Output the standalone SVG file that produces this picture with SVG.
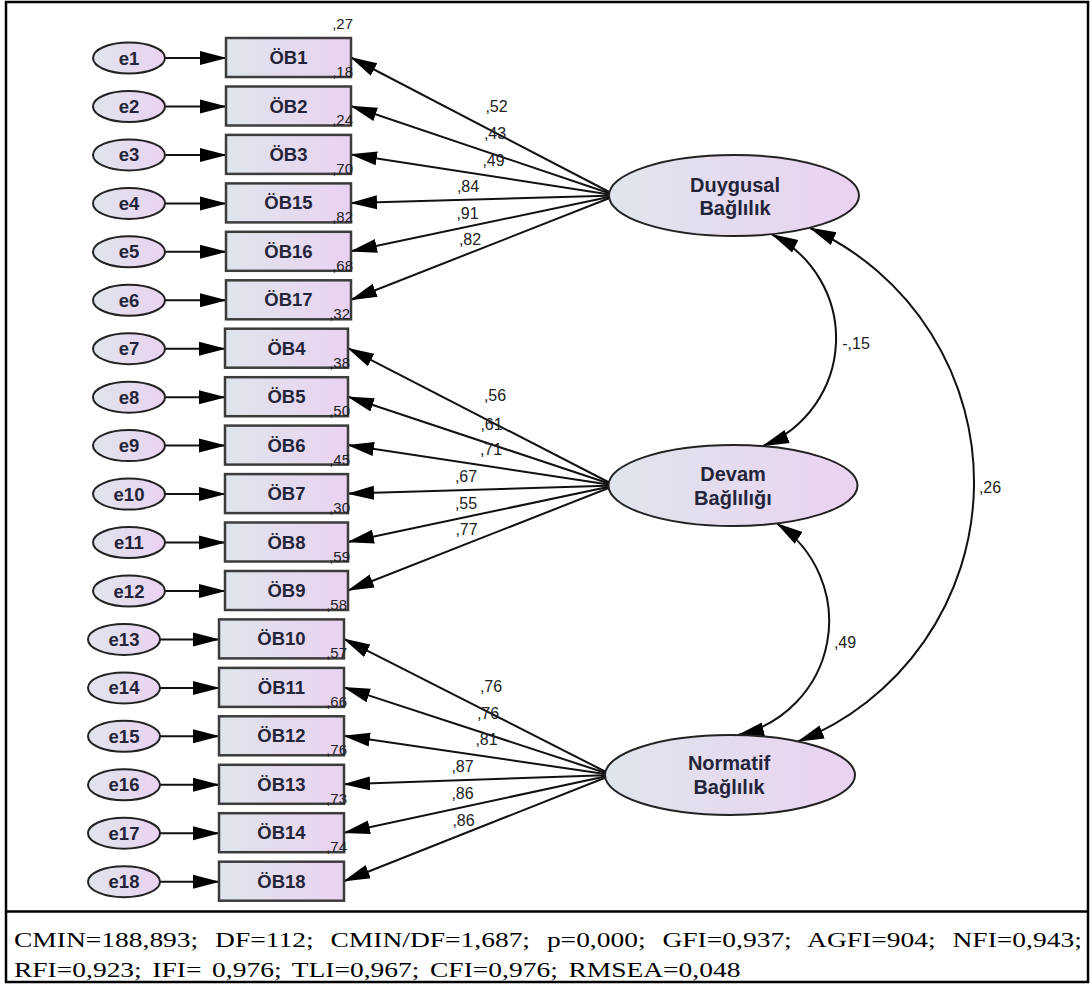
<svg xmlns="http://www.w3.org/2000/svg" width="1092" height="985" viewBox="0 0 1092 985">
<style>
.box{fill:url(#g);stroke:#3c3c3c;stroke-width:2.5}
.err{fill:url(#g);stroke:#222;stroke-width:2}
.fac{fill:url(#g);stroke:#222;stroke-width:2}
.lbl{font-family:"Liberation Sans",Arial,sans-serif;font-size:18.5px;font-weight:bold;fill:#24243a;text-anchor:middle}
.flbl{font-family:"Liberation Sans",Arial,sans-serif;font-size:20px;font-weight:bold;fill:#24243a;text-anchor:middle}
.num{font-family:"Liberation Sans",Arial,sans-serif;font-size:16px;fill:#222;text-anchor:middle}
.r2{font-family:"Liberation Sans",Arial,sans-serif;font-size:15px;fill:#222;text-anchor:end}
.c{fill:none;stroke:#111;stroke-width:2}
.fit{font-family:"Liberation Serif","Times New Roman",serif;font-size:22px;fill:#000}
</style>
<defs>
<linearGradient id="g" x1="0" y1="0" x2="1" y2="0">
<stop offset="0" stop-color="#dfe5ec"/>
<stop offset="1" stop-color="#ead2f1"/>
</linearGradient>
<marker id="ah" markerUnits="userSpaceOnUse" markerWidth="27" markerHeight="16" viewBox="0 0 27 16" refX="26" refY="8" orient="auto-start-reverse">
<path d="M0,1 L27,8 L0,15 Z" fill="#000"/>
</marker>
</defs>
<rect x="6" y="2" width="1082" height="980" fill="#fff" stroke="#000" stroke-width="2.5"/>
<line x1="6" y1="911.5" x2="1088" y2="911.5" stroke="#000" stroke-width="2.5"/>

<g id="connectors">
<path class="c" marker-end="url(#ah)" d="M165,58 L226,58"/>
<path class="c" marker-end="url(#ah)" d="M165,106.5 L226,106.5"/>
<path class="c" marker-end="url(#ah)" d="M165,154.9 L226,154.9"/>
<path class="c" marker-end="url(#ah)" d="M165,203.4 L226,203.4"/>
<path class="c" marker-end="url(#ah)" d="M165,251.8 L226,251.8"/>
<path class="c" marker-end="url(#ah)" d="M165,300.3 L226,300.3"/>
<path class="c" marker-end="url(#ah)" d="M165,348.7 L225,348.7"/>
<path class="c" marker-end="url(#ah)" d="M165,397.2 L225,397.2"/>
<path class="c" marker-end="url(#ah)" d="M165,445.6 L225,445.6"/>
<path class="c" marker-end="url(#ah)" d="M165,494.1 L225,494.1"/>
<path class="c" marker-end="url(#ah)" d="M165,542.5 L225,542.5"/>
<path class="c" marker-end="url(#ah)" d="M165,591 L225,591"/>
<path class="c" marker-end="url(#ah)" d="M160,639.4 L219,639.4"/>
<path class="c" marker-end="url(#ah)" d="M160,687.9 L219,687.9"/>
<path class="c" marker-end="url(#ah)" d="M160,736.3 L219,736.3"/>
<path class="c" marker-end="url(#ah)" d="M160,784.8 L219,784.8"/>
<path class="c" marker-end="url(#ah)" d="M160,833.2 L219,833.2"/>
<path class="c" marker-end="url(#ah)" d="M160,881.7 L219,881.7"/>
<path class="c" marker-end="url(#ah)" d="M616,195.5 L351,57.5"/>
<path class="c" marker-end="url(#ah)" d="M616,195.5 L351,106"/>
<path class="c" marker-end="url(#ah)" d="M616,195.5 L351,154.4"/>
<path class="c" marker-end="url(#ah)" d="M616,195.5 L351,202.9"/>
<path class="c" marker-end="url(#ah)" d="M616,195.5 L351,251.3"/>
<path class="c" marker-end="url(#ah)" d="M616,195.5 L351,299.8"/>
<path class="c" marker-end="url(#ah)" d="M615,485.5 L348,348.2"/>
<path class="c" marker-end="url(#ah)" d="M615,485.5 L348,396.7"/>
<path class="c" marker-end="url(#ah)" d="M615,485.5 L348,445.1"/>
<path class="c" marker-end="url(#ah)" d="M615,485.5 L348,493.6"/>
<path class="c" marker-end="url(#ah)" d="M615,485.5 L348,542"/>
<path class="c" marker-end="url(#ah)" d="M615,485.5 L348,590.5"/>
<path class="c" marker-end="url(#ah)" d="M612,775 L344,638.9"/>
<path class="c" marker-end="url(#ah)" d="M612,775 L344,687.4"/>
<path class="c" marker-end="url(#ah)" d="M612,775 L344,735.8"/>
<path class="c" marker-end="url(#ah)" d="M612,775 L344,784.3"/>
<path class="c" marker-end="url(#ah)" d="M612,775 L344,832.7"/>
<path class="c" marker-end="url(#ah)" d="M612,775 L344,881.2"/>
<path class="c" marker-start="url(#ah)" marker-end="url(#ah)" d="M772,234.5 A116,116 0 0 1 763,446"/>
<path class="c" marker-start="url(#ah)" marker-end="url(#ah)" d="M777,523.5 A117,117 0 0 1 738,735"/>
<path class="c" marker-start="url(#ah)" marker-end="url(#ah)" d="M810,228 A279,279 0 0 1 798,741.5"/>
</g>

<g id="labels-loadings">
<text class="num" x="496.5" y="111.5">,52</text>
<text class="num" x="495" y="139">,43</text>
<text class="num" x="493.5" y="165.5">,49</text>
<text class="num" x="468" y="192">,84</text>
<text class="num" x="467.5" y="219">,91</text>
<text class="num" x="470" y="245">,82</text>
<text class="num" x="495" y="401">,56</text>
<text class="num" x="491.5" y="429.5">,61</text>
<text class="num" x="491" y="455">,71</text>
<text class="num" x="466" y="482">,67</text>
<text class="num" x="466" y="509">,55</text>
<text class="num" x="466.5" y="535">,77</text>
<text class="num" x="491" y="692">,76</text>
<text class="num" x="488" y="719">,76</text>
<text class="num" x="486.5" y="745">,81</text>
<text class="num" x="462.5" y="772">,87</text>
<text class="num" x="462.5" y="799">,86</text>
<text class="num" x="463.5" y="825.5">,86</text>
<text class="num" x="856" y="348.5">-,15</text>
<text class="num" x="845" y="647.5">,49</text>
<text class="num" x="990" y="493">,26</text>
</g>

<g id="e1"><ellipse class="err" cx="129" cy="58" rx="36" ry="15.5"/><text class="lbl" x="129" y="64.5">e1</text></g>
<g id="e2"><ellipse class="err" cx="129" cy="106.5" rx="36" ry="15.5"/><text class="lbl" x="129" y="113">e2</text></g>
<g id="e3"><ellipse class="err" cx="129" cy="154.9" rx="36" ry="15.5"/><text class="lbl" x="129" y="161.4">e3</text></g>
<g id="e4"><ellipse class="err" cx="129" cy="203.4" rx="36" ry="15.5"/><text class="lbl" x="129" y="209.9">e4</text></g>
<g id="e5"><ellipse class="err" cx="129" cy="251.8" rx="36" ry="15.5"/><text class="lbl" x="129" y="258.3">e5</text></g>
<g id="e6"><ellipse class="err" cx="129" cy="300.3" rx="36" ry="15.5"/><text class="lbl" x="129" y="306.8">e6</text></g>
<g id="e7"><ellipse class="err" cx="129" cy="348.7" rx="36" ry="15.5"/><text class="lbl" x="129" y="355.2">e7</text></g>
<g id="e8"><ellipse class="err" cx="129" cy="397.2" rx="36" ry="15.5"/><text class="lbl" x="129" y="403.7">e8</text></g>
<g id="e9"><ellipse class="err" cx="129" cy="445.6" rx="36" ry="15.5"/><text class="lbl" x="129" y="452.1">e9</text></g>
<g id="e10"><ellipse class="err" cx="129" cy="494.1" rx="36" ry="15.5"/><text class="lbl" x="129" y="500.6">e10</text></g>
<g id="e11"><ellipse class="err" cx="129" cy="542.5" rx="36" ry="15.5"/><text class="lbl" x="129" y="549">e11</text></g>
<g id="e12"><ellipse class="err" cx="129" cy="591" rx="36" ry="15.5"/><text class="lbl" x="129" y="597.5">e12</text></g>
<g id="e13"><ellipse class="err" cx="124" cy="639.4" rx="36" ry="15.5"/><text class="lbl" x="124" y="645.9">e13</text></g>
<g id="e14"><ellipse class="err" cx="124" cy="687.9" rx="36" ry="15.5"/><text class="lbl" x="124" y="694.4">e14</text></g>
<g id="e15"><ellipse class="err" cx="124" cy="736.3" rx="36" ry="15.5"/><text class="lbl" x="124" y="742.8">e15</text></g>
<g id="e16"><ellipse class="err" cx="124" cy="784.8" rx="36" ry="15.5"/><text class="lbl" x="124" y="791.3">e16</text></g>
<g id="e17"><ellipse class="err" cx="124" cy="833.2" rx="36" ry="15.5"/><text class="lbl" x="124" y="839.7">e17</text></g>
<g id="e18"><ellipse class="err" cx="124" cy="881.7" rx="36" ry="15.5"/><text class="lbl" x="124" y="888.2">e18</text></g>

<g id="OB1"><rect class="box" x="226" y="38" width="125" height="39"/><text class="lbl" x="288.5" y="64">ÖB1</text><text class="r2" x="353" y="28.5">,27</text></g>
<g id="OB2"><rect class="box" x="226" y="86.5" width="125" height="39"/><text class="lbl" x="288.5" y="112.5">ÖB2</text><text class="r2" x="353" y="77">,18</text></g>
<g id="OB3"><rect class="box" x="226" y="134.9" width="125" height="39"/><text class="lbl" x="288.5" y="160.9">ÖB3</text><text class="r2" x="353" y="125.4">,24</text></g>
<g id="OB15"><rect class="box" x="226" y="183.4" width="125" height="39"/><text class="lbl" x="288.5" y="209.4">ÖB15</text><text class="r2" x="353" y="173.9">,70</text></g>
<g id="OB16"><rect class="box" x="226" y="231.8" width="125" height="39"/><text class="lbl" x="288.5" y="257.8">ÖB16</text><text class="r2" x="353" y="222.3">,82</text></g>
<g id="OB17"><rect class="box" x="226" y="280.3" width="125" height="39"/><text class="lbl" x="288.5" y="306.3">ÖB17</text><text class="r2" x="353" y="270.8">,68</text></g>
<g id="OB4"><rect class="box" x="225" y="328.7" width="123" height="39"/><text class="lbl" x="286.5" y="354.7">ÖB4</text><text class="r2" x="350" y="319.2">,32</text></g>
<g id="OB5"><rect class="box" x="225" y="377.2" width="123" height="39"/><text class="lbl" x="286.5" y="403.2">ÖB5</text><text class="r2" x="350" y="367.7">,38</text></g>
<g id="OB6"><rect class="box" x="225" y="425.6" width="123" height="39"/><text class="lbl" x="286.5" y="451.6">ÖB6</text><text class="r2" x="350" y="416.1">,50</text></g>
<g id="OB7"><rect class="box" x="225" y="474.1" width="123" height="39"/><text class="lbl" x="286.5" y="500.1">ÖB7</text><text class="r2" x="350" y="464.6">,45</text></g>
<g id="OB8"><rect class="box" x="225" y="522.5" width="123" height="39"/><text class="lbl" x="286.5" y="548.5">ÖB8</text><text class="r2" x="350" y="513">,30</text></g>
<g id="OB9"><rect class="box" x="225" y="571" width="123" height="39"/><text class="lbl" x="286.5" y="597">ÖB9</text><text class="r2" x="350" y="561.5">,59</text></g>
<g id="OB10"><rect class="box" x="219" y="619.4" width="125" height="39"/><text class="lbl" x="281.5" y="645.4">ÖB10</text><text class="r2" x="347" y="609.9">,58</text></g>
<g id="OB11"><rect class="box" x="219" y="667.9" width="125" height="39"/><text class="lbl" x="281.5" y="693.9">ÖB11</text><text class="r2" x="347" y="658.4">,57</text></g>
<g id="OB12"><rect class="box" x="219" y="716.3" width="125" height="39"/><text class="lbl" x="281.5" y="742.3">ÖB12</text><text class="r2" x="347" y="706.8">,66</text></g>
<g id="OB13"><rect class="box" x="219" y="764.8" width="125" height="39"/><text class="lbl" x="281.5" y="790.8">ÖB13</text><text class="r2" x="347" y="755.3">,76</text></g>
<g id="OB14"><rect class="box" x="219" y="813.2" width="125" height="39"/><text class="lbl" x="281.5" y="839.2">ÖB14</text><text class="r2" x="347" y="803.7">,73</text></g>
<g id="OB18"><rect class="box" x="219" y="861.7" width="125" height="39"/><text class="lbl" x="281.5" y="887.7">ÖB18</text><text class="r2" x="347" y="852.2">,74</text></g>

<g id="Duygusal"><ellipse class="fac" cx="734" cy="195.5" rx="125" ry="40.5"/><text class="flbl" x="735" y="192">Duygusal</text><text class="flbl" x="735" y="215">Bağlılık</text></g>
<g id="Devam"><ellipse class="fac" cx="733" cy="485.5" rx="124.5" ry="40.5"/><text class="flbl" x="733" y="481">Devam</text><text class="flbl" x="733" y="505">Bağlılığı</text></g>
<g id="Normatif"><ellipse class="fac" cx="730" cy="775" rx="125" ry="40"/><text class="flbl" x="729" y="770">Normatif</text><text class="flbl" x="729" y="794">Bağlılık</text></g>

<g id="fit">
<text class="fit" transform="scale(1.25 1)" x="11.2" y="947" word-spacing="8">CMIN=188,893; DF=112; CMIN/DF=1,687; p=0,000; GFI=0,937; AGFI=904; NFI=0,943;</text>
<text class="fit" transform="scale(1.25 1)" x="11.2" y="977" word-spacing="3">RFI=0,923; IFI= 0,976; TLI=0,967; CFI=0,976; RMSEA=0,048</text>
</g>
</svg>
